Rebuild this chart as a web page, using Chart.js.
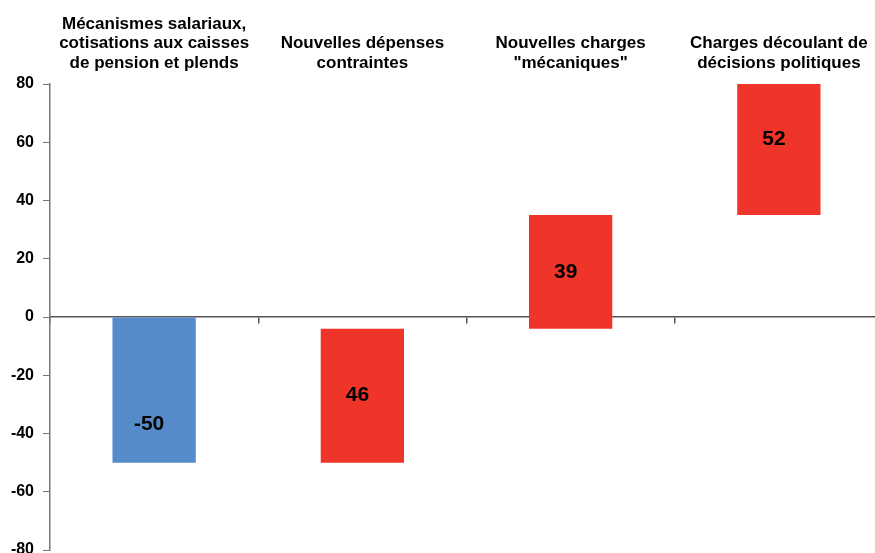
<!DOCTYPE html>
<html>
<head>
<meta charset="utf-8">
<script src="https://cdn.jsdelivr.net/npm/chart.js@4/dist/chart.umd.min.js"></script>
<style>
  html, body { margin: 0; padding: 0; background: #fff; overflow: hidden; }
  #wrap { position: absolute; left: 0; top: 0; width: 883px; height: 553px; }
</style>
</head>
<body>
<div id="wrap"><canvas id="chart" width="883" height="553"></canvas></div>
<script>
// Waterfall: each step starts where the previous one ended
const categories = [
  ['Mécanismes salariaux,', 'cotisations aux caisses', 'de pension et plends'],
  ['Nouvelles dépenses', 'contraintes'],
  ['Nouvelles charges', '"mécaniques"'],
  ['Charges découlant de', 'décisions politiques']
];
const steps = [-50, 46, 39, 52];
const yMin = -80, yMax = 80, yStep = 20;

const BLUE = '#558BCB';
const RED = '#EF3429';
const FONT = "'Liberation Sans', Arial, sans-serif";

// floating [start, end] pairs from the step values
const ranges = [];
let run = 0;
steps.forEach(v => { ranges.push([run, run + v]); run += v; });

const stepLabels = {
  id: 'stepLabels',
  afterDatasetsDraw(chart, args, opts) {
    const { ctx, scales: { y } } = chart;
    const meta = chart.getDatasetMeta(0);
    ctx.save();
    ctx.font = 'bold 21px ' + FONT;
    ctx.fillStyle = '#000';
    ctx.textAlign = 'center';
    ctx.textBaseline = 'middle';
    meta.data.forEach((bar, i) => {
      const [a, b] = ranges[i];
      const py = y.getPixelForValue((a + b) / 2) + (opts.nudge[i] || 0);
      ctx.fillText(String(steps[i]), bar.x - 5, py);
    });
    ctx.restore();
  }
};

new Chart(document.getElementById('chart'), {
  type: 'bar',
  data: {
    labels: categories,
    datasets: [{
      data: ranges,
      backgroundColor: steps.map(v => v < 0 ? BLUE : RED),
      borderWidth: 0,
      barPercentage: 0.4,
      categoryPercentage: 1
    }]
  },
  options: {
    responsive: false,
    animation: false,
    layout: { padding: { top: 0, bottom: 3, left: 0, right: 0 } },
    plugins: {
      legend: { display: false },
      tooltip: { enabled: false },
      stepLabels: { nudge: { 0: 34 } }
    },
    scales: {
      x: {
        position: 'top',
        grid: { display: false },
        border: { display: false },
        ticks: {
          color: '#000',
          padding: 3,
          maxRotation: 0,
          autoSkip: false,
          font: { family: FONT, size: 17, weight: 'bold', lineHeight: '19.5px' }
        },
        afterFit: s => { s.height = 84; }
      },
      zero: {
        type: 'category',
        axis: 'x',
        position: { y: 0 },
        offset: true,
        grid: { drawOnChartArea: false, drawTicks: true, tickLength: 6, offset: true, color: '#555', lineWidth: 1.5 },
        border: { display: true, color: '#555', width: 1.5 },
        ticks: { display: false }
      },
      y: {
        min: yMin,
        max: yMax,
        grid: { drawOnChartArea: false, drawTicks: true, tickLength: 7, color: '#777', lineWidth: 1 },
        border: { display: true, color: '#777', width: 1.5 },
        ticks: {
          stepSize: yStep,
          color: '#000',
          padding: 9,
          font: { family: FONT, size: 16, weight: 'bold' }
        },
        afterFit: s => { s.width = 50; s.paddingTop = 0; s.paddingBottom = 0; }
      }
    }
  },
  plugins: [stepLabels]
});
</script>
</body>
</html>
